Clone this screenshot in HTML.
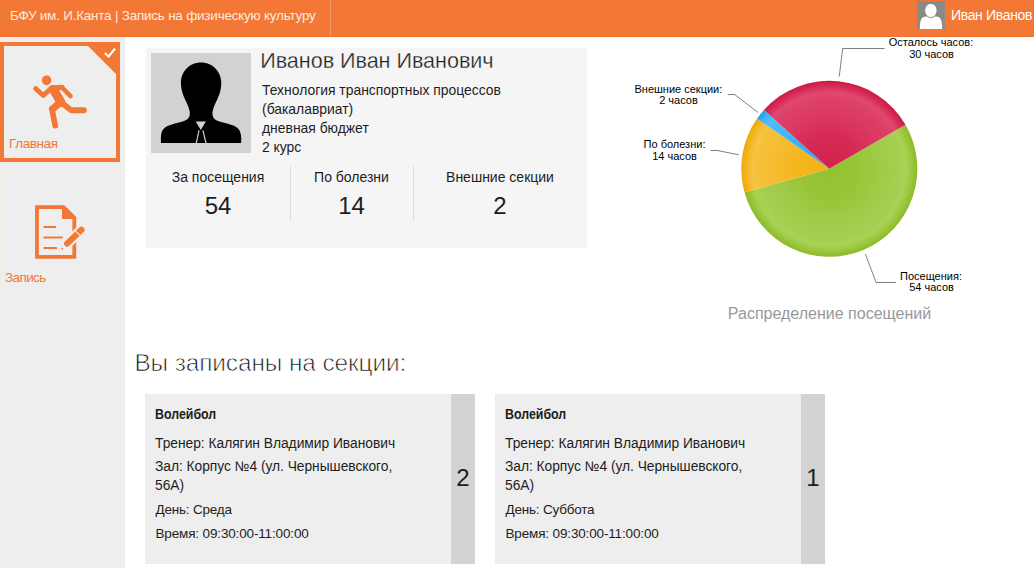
<!DOCTYPE html>
<html lang="ru">
<head>
<meta charset="utf-8">
<title>БФУ им. И.Канта | Запись на физическую культуру</title>
<style>
*{box-sizing:border-box;margin:0;padding:0}
html,body{width:1034px;height:568px;overflow:hidden;background:#fff}
body{position:relative;font-family:"Liberation Sans",sans-serif;font-size:14px;color:#1d1d1d}
.abs{position:absolute;white-space:nowrap}
#hdr{position:absolute;left:0;top:0;width:1034px;height:37px;background:#f37835;border-bottom:1px solid #f27030}
#hdr .ttl{color:#fcebe0}
#hdr .div{position:absolute;left:330px;top:0;width:1px;height:36px;background:#f59a6a}
#hdr .uava{position:absolute;left:917px;top:1px;width:28px;height:28px;background:#8a8a8a;overflow:hidden}
#hdr .unm{color:#fff}
#side{position:absolute;left:0;top:37px;width:125px;height:531px;background:#eeeeee}
.tile{position:absolute;left:0;width:120px;height:120px;background:#eeeeee}
#t1{top:42px;border:4px solid #f37835}
#t2{top:172px;border:1px solid #eeeee0}
.tile .lbl{color:#f37835;font-size:14px;line-height:16px}
#t1 .tri{position:absolute;right:0;top:0;width:0;height:0;border-top:28px solid #f37835;border-left:28px solid transparent}
#card{position:absolute;left:146px;top:48px;width:441px;height:200px;background:#f5f5f5}
#ava{position:absolute;left:5px;top:5px;width:100px;height:100px;background:#d2d2d2}
.vd{position:absolute;top:118px;width:1px;height:54px;background:#dcdcdc}
.stl{font-size:14px;line-height:16px;text-align:center}
.stv{font-size:24px;line-height:28px;text-align:center}
.h2{left:135px;top:348px;font-size:24px;line-height:30px;color:#222}
.sec{position:absolute;top:394px;width:330px;height:170px;background:#eeeeee;box-shadow:inset 0 0 0 1px #eeeee2}
.sec .bdg{position:absolute;right:0;top:0;width:24px;height:170px;background:#d3d3d3}
.sec .num{position:absolute;right:0;top:70px;width:24px;text-align:center;font-size:24px;line-height:28px}
.sec .ln{left:10px;font-size:14px;line-height:16px}
.pl{font-size:11px;line-height:12px;color:#000;text-align:center}

/* fitted text */
.tx{line-height:16px}
#x_title{left:10px;top:8px;font-size:13.5px;letter-spacing:-.23px}
#x_user{left:951px;top:7px;font-size:14px;letter-spacing:-.34px}
#x_l1{left:5px;top:90px;font-size:13.5px;letter-spacing:-.4px}
#x_l2{left:4px;top:97px;font-size:13.5px;letter-spacing:-.6px}
#x_name{left:114.2px;top:-1px;font-size:21.6px;line-height:28px;letter-spacing:-.05px;-webkit-text-stroke:.3px #f5f5f5}
#x_info{left:116px;top:33.3px;font-size:13.9px;line-height:19px}
#x_s1{left:0;width:144px;top:120.5px}
#x_v1{left:0;width:144px;top:143.7px;line-height:28px}
#x_s2{left:144px;width:123px;top:120.5px}
#x_v2{left:144px;width:123px;top:143.7px;line-height:28px}
#x_s3{left:267px;width:174px;top:120.5px}
#x_v3{left:267px;width:174px;top:143.7px;line-height:28px}
#x_h2{left:134.4px;top:348.1px;font-size:24.4px;letter-spacing:-.1px;line-height:30px;-webkit-text-stroke:.75px #fff;color:#111}
#x_c1,#x_c6{top:11.8px;font-size:14px;font-weight:bold;transform:scaleX(.885);transform-origin:0 0}
#x_c2,#x_c7{top:42px;font-size:13.8px;letter-spacing:-.02px}
#x_c3,#x_c8{top:63px;font-size:13.8px;line-height:19px;letter-spacing:-.03px}
#x_c4,#x_c9{left:10.5px;top:108.4px;font-size:13.5px;letter-spacing:-.2px}
#x_c5,#x_c10{left:10.5px;top:132.4px;font-size:13.5px;letter-spacing:-.15px}
.sec .ln{left:10px}
</style>
</head>
<body>
<div id="hdr">
  <div class="abs ttl tx" id="x_title">БФУ им. И.Канта | Запись на физическую культуру</div>
  <div class="div"></div>
  <div class="uava">
    <svg width="28" height="28" viewBox="0 0 28 28"><path d="M2.8 28 C2.8 20 4 15.5 9 15.5 H19 C24 15.5 25.2 20 25.2 28 Z" fill="#fff"/><ellipse cx="13.9" cy="9.5" rx="6.2" ry="7.1" fill="#fff" stroke="#80848a" stroke-width=".9"/></svg>
  </div>
  <div class="abs unm tx" id="x_user">Иван Иванов</div>
</div>

<div id="side">
</div>
<div class="tile" id="t1">
  <div class="tri"></div>
  <svg style="position:absolute;left:96px;top:0px" width="16" height="12" viewBox="100 46 16 12"><path d="M104.8 52.9 L108.6 56.5 L115 48.6" fill="none" stroke="#fff" stroke-width="2.1"/></svg>
  <svg class="ic" style="position:absolute;left:21px;top:22px" width="70" height="70" viewBox="0 0 568 568">
    <g fill="none" stroke="#f37835" stroke-linecap="round" stroke-linejoin="round">
      <ellipse cx="175" cy="100" rx="38" ry="40" fill="#f37835" stroke="none"/>
      <path d="M215 163 L148 223 L87 168" stroke-width="40"/>
      <path d="M215 160 L300 157" stroke-width="42"/>
      <path d="M232 177 L292 280" stroke-width="74"/>
      <path d="M300 157 L370 228" stroke-width="36"/>
      <path d="M302 287 L375 343 L478 343" stroke-width="48"/>
      <path d="M280 284 L224 332" stroke-width="58"/><path d="M219 332 L245 468" stroke-width="46"/>
    </g>
  </svg>
  <div class="abs lbl tx" id="x_l1">Главная</div>
</div>
<div class="tile" id="t2">
  <svg class="ic" style="position:absolute;left:24px;top:25px" width="70" height="70" viewBox="0 0 568 568">
    <path d="M97 74 H310 L400 163 V477 H97 Z" fill="none" stroke="#f37835" stroke-width="31" stroke-linejoin="miter"/>
    <path d="M300 60 H320 L415 155 V170 H300 Z" fill="#f37835"/>
    <g stroke="#f37835" stroke-width="16" stroke-linecap="round"><path d="M156 235 H246"/><path d="M156 320 H299"/><path d="M156 405 H254"/></g>
    <path d="M335 378 L460 256" stroke="#eeeeee" stroke-width="84" stroke-linecap="round"/>
    <path d="M342 370 L458 258" stroke="#f37835" stroke-width="50" stroke-linecap="round"/>
    <path d="M407 264 L448 306" stroke="#eeeeee" stroke-width="9"/>
    <circle cx="303" cy="410" r="7" fill="#f37835"/>
  </svg>
  <div class="abs lbl tx" id="x_l2">Запись</div>
</div>

<div id="card">
  <div id="ava"><svg width="100" height="100" viewBox="0 0 100 100">
    <path d="M50 9.5 C61 9.5 70.3 18 70.3 30 C70.3 43 63 50 61.5 59 C61 65.5 64 67.5 72 69.5 C84 72.5 90 74 90.2 85 L90.2 90 L9.9 90 L9.9 85 C10 74 16 72.5 28 69.5 C36 67.5 39.3 65.5 38.8 59 C37.5 50 29.9 43 29.9 30 C29.9 18 39 9.5 50 9.5 Z" fill="#000"/>
    <g fill="none" stroke="#d2d2d2" stroke-width="1.2"><path d="M45.8 69 H53.8 L49.8 75.8 Z" fill="#d2d2d2"/><path d="M48 77.3 L45.3 90"/><path d="M51.9 77.3 L55 90"/></g>
  </svg></div>
  <div class="abs tx" id="x_name">Иванов Иван Иванович</div>
  <div class="abs tx" id="x_info">Технология транспортных процессов<br>(бакалавриат)<br>дневная бюджет<br>2 курс</div>
  <div class="vd" style="left:144px"></div>
  <div class="vd" style="left:267px"></div>
  <div class="abs stl tx" id="x_s1">За посещения</div>
  <div class="abs stv tx" id="x_v1">54</div>
  <div class="abs stl tx" id="x_s2">По болезни</div>
  <div class="abs stv tx" id="x_v2">14</div>
  <div class="abs stl tx" id="x_s3">Внешние секции</div>
  <div class="abs stv tx" id="x_v3">2</div>
</div>


<svg id="chart" style="position:absolute;left:620px;top:37px" width="414" height="300" viewBox="620 37 414 300" font-family="'Liberation Sans',sans-serif">
  <defs>
    <radialGradient id="gg" gradientUnits="userSpaceOnUse" cx="829.3" cy="168.8" r="88">
      <stop offset="0" stop-color="#94c231"/><stop offset="0.35" stop-color="#98c538"/><stop offset="0.6" stop-color="#a0cb48"/><stop offset="0.8" stop-color="#a5cf50"/><stop offset="0.87" stop-color="#a9d256"/><stop offset="0.93" stop-color="#9dc941"/><stop offset="1" stop-color="#8cba25"/>
    </radialGradient>
    <radialGradient id="gy" gradientUnits="userSpaceOnUse" cx="829.3" cy="168.8" r="88">
      <stop offset="0" stop-color="#f2b314"/><stop offset="0.35" stop-color="#f3b61d"/><stop offset="0.6" stop-color="#f5bc2f"/><stop offset="0.8" stop-color="#f6c03a"/><stop offset="0.87" stop-color="#f7c342"/><stop offset="0.93" stop-color="#f4b826"/><stop offset="1" stop-color="#eda908"/>
    </radialGradient>
    <radialGradient id="gb" gradientUnits="userSpaceOnUse" cx="829.3" cy="168.8" r="88">
      <stop offset="0" stop-color="#2caaf1"/><stop offset="0.35" stop-color="#33aef3"/><stop offset="0.6" stop-color="#42b6f6"/><stop offset="0.8" stop-color="#4cbbf7"/><stop offset="0.87" stop-color="#54bef8"/><stop offset="0.93" stop-color="#3cb3f5"/><stop offset="1" stop-color="#229ee7"/>
    </radialGradient>
    <radialGradient id="gr" gradientUnits="userSpaceOnUse" cx="829.3" cy="168.8" r="88">
      <stop offset="0" stop-color="#d4224e"/><stop offset="0.35" stop-color="#d62954"/><stop offset="0.6" stop-color="#da3861"/><stop offset="0.8" stop-color="#dd4169"/><stop offset="0.87" stop-color="#df486f"/><stop offset="0.93" stop-color="#d8305a"/><stop offset="1" stop-color="#cb1944"/>
    </radialGradient>
  </defs>
  <path d="M829.3 168.8 L905.51 124.80 A88 88 0 1 1 744.54 192.46 Z" fill="url(#gg)"/>
  <path d="M829.3 168.8 L744.54 192.46 A88 88 0 0 1 757.04 118.58 Z" fill="url(#gy)"/>
  <path d="M829.3 168.8 L757.04 118.58 A88 88 0 0 1 763.90 109.92 Z" fill="url(#gb)"/>
  <path d="M829.3 168.8 L763.90 109.92 A88 88 0 0 1 905.51 124.80 Z" fill="url(#gr)"/>
  <g fill="none" stroke="#000" stroke-opacity=".5" stroke-width="1">
    <polyline points="839.2,76.7 842.7,48.5 884.6,48.5"/>
    <polyline points="758,112.4 734.6,94.5 727.7,94.5"/>
    <polyline points="738.8,154.8 717.4,150.5 710.5,150.5"/>
    <polyline points="865.4,254.2 876.1,282.5 896.1,282.5"/>
  </g>
  <g font-size="11" fill="#000" text-anchor="middle">
    <text x="931" y="46">Осталось часов:</text><text x="931.5" y="57.7">30 часов</text>
    <text x="678.4" y="92.6">Внешние секции:</text><text x="678.5" y="104.1">2 часов</text>
    <text x="674.5" y="148.3">По болезни:</text><text x="674.6" y="159.9">14 часов</text>
    <text x="931" y="279.8">Посещения:</text><text x="931.6" y="291.4">54 часов</text>
  </g>
  <text x="829.5" y="319" font-size="16" fill="#999" text-anchor="middle">Распределение посещений</text>
</svg>

<div class="abs h2 tx" id="x_h2">Вы записаны на секции:</div>

<div class="sec" style="left:145px">
  <div class="abs ln tx" id="x_c1">Волейбол</div>
  <div class="abs ln tx" id="x_c2">Тренер: Калягин Владимир Иванович</div>
  <div class="abs ln tx" id="x_c3">Зал: Корпус №4 (ул. Чернышевского,<br>56А)</div>
  <div class="abs ln tx" id="x_c4">День: Среда</div>
  <div class="abs ln tx" id="x_c5">Время: 09:30:00-11:00:00</div>
  <div class="bdg"></div><div class="num tx" id="x_n1">2</div>
</div>
<div class="sec" style="left:495px">
  <div class="abs ln tx" id="x_c6">Волейбол</div>
  <div class="abs ln tx" id="x_c7">Тренер: Калягин Владимир Иванович</div>
  <div class="abs ln tx" id="x_c8">Зал: Корпус №4 (ул. Чернышевского,<br>56А)</div>
  <div class="abs ln tx" id="x_c9">День: Суббота</div>
  <div class="abs ln tx" id="x_c10">Время: 09:30:00-11:00:00</div>
  <div class="bdg"></div><div class="num tx" id="x_n2">1</div>
</div>

</body>
</html>
